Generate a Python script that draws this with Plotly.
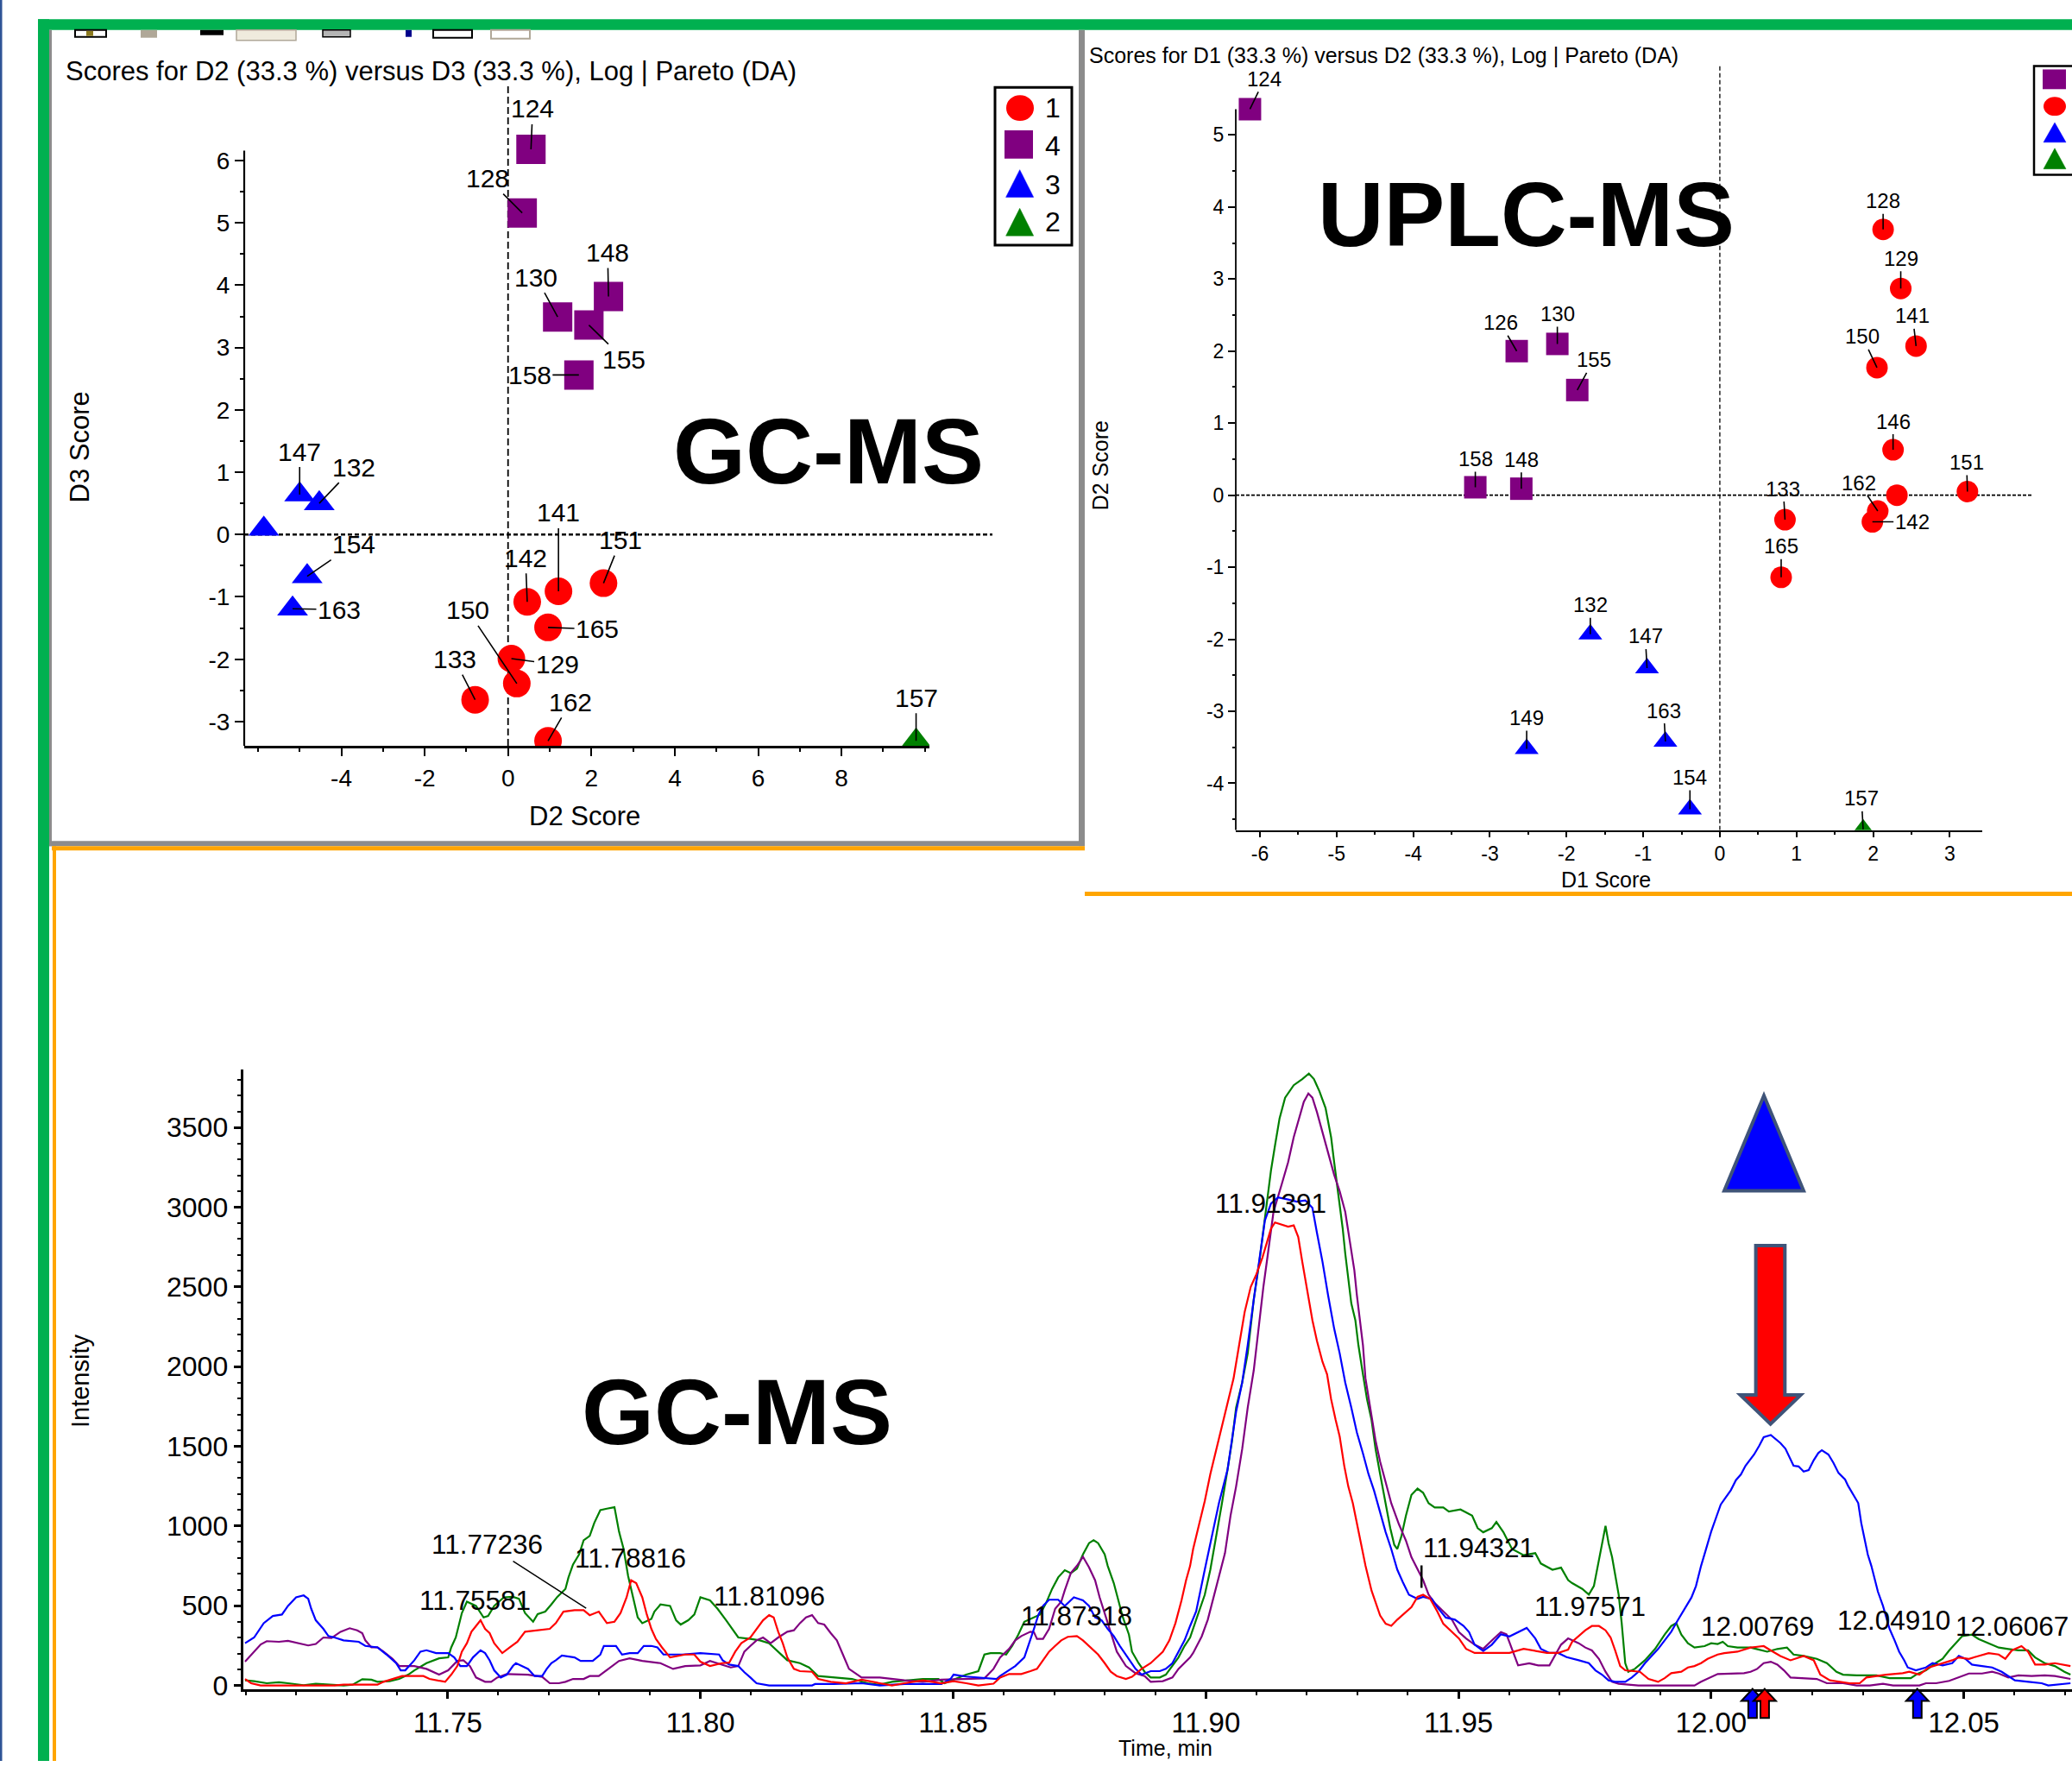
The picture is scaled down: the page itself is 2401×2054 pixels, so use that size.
import plotly.graph_objects as go

W, H = 2401, 2054
NARROW = "Liberation Sans, Arial, sans-serif"
REG = "Liberation Sans, Arial, sans-serif"
BOLDN = "Liberation Sans, Arial, sans-serif"

RED, PURPLE, BLUE, GREEN = "#FF0000", "#800080", "#0000FF", "#008000"

# ---------------- GC-MS scores: D2 (x) vs D3 (y) ----------------
GC_G4_IDS = ["124", "128", "130", "148", "155", "158"]
GC_G4_D2 = [0.55, 0.34, 1.19, 2.41, 1.94, 1.70]
GC_G4_D3 = [6.18, 5.16, 3.49, 3.82, 3.36, 2.56]

GC_G3_IDS = ["147", "132", "", "154", "163"]
GC_G3_D2 = [-5.00, -4.53, -5.86, -4.82, -5.17]
GC_G3_D3 = [0.64, 0.50, 0.09, -0.67, -1.19]

GC_G1_IDS = ["141", "151", "142", "165", "129", "150", "133", "162"]
GC_G1_D2 = [1.21, 2.29, 0.46, 0.96, 0.08, 0.21, -0.79, 0.96]
GC_G1_D3 = [-0.91, -0.78, -1.08, -1.49, -1.99, -2.39, -2.65, -3.31]

GC_G2_IDS = ["157"]
GC_G2_D2 = [9.79]
GC_G2_D3 = [-3.31]

GC_X_TICKS = [-4, -2, 0, 2, 4, 6, 8]
GC_Y_TICKS = [-3, -2, -1, 0, 1, 2, 3, 4, 5, 6]

# ---------------- UPLC-MS scores: D1 (x) vs D2 (y) ----------------
UP_G4_IDS = ["124", "126", "130", "155", "158", "148"]
UP_G4_D1 = [-6.13, -2.65, -2.12, -1.86, -3.19, -2.59]
UP_G4_D2 = [5.36, 2.00, 2.10, 1.46, 0.11, 0.09]

UP_G1_IDS = ["128", "129", "141", "150", "146", "151", "", "162", "142", "133", "165"]
UP_G1_D1 = [2.13, 2.36, 2.56, 2.05, 2.26, 3.23, 2.31, 2.06, 1.99, 0.85, 0.80]
UP_G1_D2 = [3.69, 2.87, 2.07, 1.77, 0.63, 0.05, 0.00, -0.22, -0.37, -0.34, -1.14]

UP_G3_IDS = ["132", "147", "149", "163", "154"]
UP_G3_D1 = [-1.69, -0.95, -2.52, -0.71, -0.39]
UP_G3_D2 = [-1.93, -2.40, -3.52, -3.42, -4.36]

UP_G2_IDS = ["157"]
UP_G2_D1 = [1.87]
UP_G2_D2 = [-4.64]

UP_X_TICKS = [-6, -5, -4, -3, -2, -1, 0, 1, 2, 3]
UP_Y_TICKS = [-4, -3, -2, -1, 0, 1, 2, 3, 4, 5]

# ---------------- GC-MS chromatogram (time [min], intensity) ----------------
CHROM_GREEN = [
    (11.7099, 32), (11.7117, 27), (11.7142, 14), (11.7166, 20), (11.7184, 14), (11.7215, 2), (11.7239, 11),
    (11.7276, 5), (11.7294, 0), (11.7312, 5), (11.7331, 39), (11.7349, 36), (11.7361, 23), (11.7385, 27),
    (11.7404, 41), (11.7422, 68), (11.7434, 95), (11.7458, 140), (11.7483, 170), (11.7501, 176), (11.7507, 239),
    (11.7516, 301), (11.7522, 382), (11.7528, 454), (11.7538, 526), (11.7556, 499), (11.7571, 427), (11.7580, 436),
    (11.7592, 499), (11.7611, 553), (11.7629, 556), (11.7641, 544), (11.7653, 454), (11.7669, 400), (11.7678, 448),
    (11.7693, 463), (11.7705, 508), (11.7717, 556), (11.7733, 606), (11.7739, 678), (11.7748, 759), (11.7760, 822),
    (11.7769, 911), (11.7781, 938), (11.7790, 1019), (11.7802, 1100), (11.7815, 1109), (11.7830, 1118),
    (11.7839, 965), (11.7848, 857), (11.7857, 687), (11.7866, 571), (11.7876, 427), (11.7885, 391), (11.7903, 418),
    (11.7909, 463), (11.7921, 508), (11.7940, 499), (11.7952, 409), (11.7961, 382), (11.7976, 409), (11.7988, 445),
    (11.8000, 553), (11.8019, 534), (11.8034, 481), (11.8051, 409), (11.8063, 355), (11.8075, 301), (11.8099, 292),
    (11.8118, 283), (11.8136, 265), (11.8148, 230), (11.8160, 194), (11.8172, 158), (11.8197, 140), (11.8215, 113),
    (11.8233, 59), (11.8282, 45), (11.8300, 41), (11.8331, 14), (11.8355, 5), (11.8379, 23), (11.8440, 41),
    (11.8471, 41), (11.8483, 14), (11.8526, 68), (11.8550, 90), (11.8562, 194), (11.8574, 203), (11.8593, 203),
    (11.8605, 194), (11.8617, 248), (11.8629, 319), (11.8641, 400), (11.8660, 427), (11.8672, 445), (11.8684, 517),
    (11.8696, 606), (11.8708, 678), (11.8721, 723), (11.8733, 705), (11.8745, 732), (11.8757, 822), (11.8769, 893),
    (11.8778, 911), (11.8787, 893), (11.8800, 822), (11.8806, 750), (11.8818, 642), (11.8827, 534), (11.8836, 427),
    (11.8848, 319), (11.8854, 212), (11.8867, 140), (11.8879, 86), (11.8891, 50), (11.8909, 50), (11.8921, 68),
    (11.8934, 122), (11.8946, 176), (11.8958, 248), (11.8969, 301), (11.8981, 413), (11.8998, 569), (11.9009, 726),
    (11.9021, 935), (11.9032, 1143), (11.9043, 1352), (11.9052, 1535), (11.9060, 1743), (11.9072, 1900),
    (11.9083, 2083), (11.9089, 2265), (11.9095, 2422), (11.9106, 2657), (11.9112, 2813), (11.9117, 2917),
    (11.9123, 3100), (11.9129, 3230), (11.9137, 3387), (11.9146, 3557), (11.9157, 3687), (11.9174, 3765),
    (11.9191, 3804), (11.9204, 3838), (11.9214, 3804), (11.9225, 3726), (11.9237, 3622), (11.9248, 3439),
    (11.9254, 3283), (11.9262, 3100), (11.9271, 2865), (11.9276, 2709), (11.9282, 2552), (11.9288, 2396),
    (11.9296, 2291), (11.9302, 2135), (11.9311, 1952), (11.9319, 1796), (11.9328, 1665), (11.9336, 1482),
    (11.9345, 1326), (11.9356, 1143), (11.9365, 987), (11.9373, 882), (11.9379, 856), (11.9387, 935),
    (11.9396, 1065), (11.9407, 1196), (11.9419, 1235), (11.9430, 1209), (11.9441, 1143), (11.9453, 1117),
    (11.9470, 1117), (11.9481, 1091), (11.9504, 1104), (11.9527, 1065), (11.9538, 987), (11.9549, 961),
    (11.9566, 987), (11.9575, 1026), (11.9589, 961), (11.9606, 856), (11.9629, 817), (11.9652, 830), (11.9663, 765),
    (11.9686, 726), (11.9703, 739), (11.9717, 661), (11.9725, 642), (11.9745, 606), (11.9758, 570), (11.9768, 624),
    (11.9778, 786), (11.9784, 893), (11.9791, 1001), (11.9797, 893), (11.9804, 804), (11.9810, 696), (11.9817, 570),
    (11.9823, 391), (11.9830, 140), (11.9836, 86), (11.9849, 104), (11.9869, 158), (11.9889, 229), (11.9908, 319),
    (11.9921, 373), (11.9931, 391), (11.9941, 319), (11.9954, 265), (11.9967, 238), (11.9987, 247), (12.0000, 265),
    (12.0013, 260), (12.0023, 274), (12.0033, 247), (12.0052, 238), (12.0078, 238), (12.0098, 220), (12.0111, 212),
    (12.0131, 229), (12.0150, 238), (12.0163, 194), (12.0183, 185), (12.0209, 167), (12.0229, 140), (12.0248, 86),
    (12.0261, 68), (12.0288, 63), (12.0327, 63), (12.0353, 46), (12.0395, 46), (12.0408, 73), (12.0425, 95),
    (12.0444, 140), (12.0458, 167), (12.0471, 220), (12.0484, 265), (12.0497, 310), (12.0516, 319), (12.0529, 292),
    (12.0549, 265), (12.0569, 238), (12.0588, 229), (12.0608, 220), (12.0627, 220), (12.0641, 176), (12.0660, 140),
    (12.0680, 122), (12.0699, 86), (12.0711, 68),
]

CHROM_PURPLE = [
    (11.7099, 149), (11.7117, 212), (11.7130, 257), (11.7142, 278), (11.7166, 274), (11.7184, 280), (11.7203, 265),
    (11.7224, 251), (11.7239, 260), (11.7254, 301), (11.7270, 298), (11.7288, 337), (11.7306, 359), (11.7321, 346),
    (11.7331, 328), (11.7337, 283), (11.7349, 239), (11.7361, 239), (11.7373, 212), (11.7391, 167), (11.7404, 122),
    (11.7434, 122), (11.7458, 104), (11.7483, 68), (11.7501, 95), (11.7519, 154), (11.7531, 158), (11.7544, 122),
    (11.7556, 50), (11.7574, 23), (11.7586, 23), (11.7598, 50), (11.7617, 72), (11.7659, 68), (11.7687, 54),
    (11.7702, 14), (11.7720, 14), (11.7733, 23), (11.7748, 41), (11.7769, 41), (11.7781, 59), (11.7799, 59),
    (11.7818, 104), (11.7839, 154), (11.7860, 170), (11.7885, 154), (11.7921, 140), (11.7946, 104), (11.7970, 122),
    (11.8000, 126), (11.8019, 154), (11.8060, 113), (11.8075, 122), (11.8087, 212), (11.8099, 248), (11.8111, 283),
    (11.8124, 301), (11.8139, 265), (11.8154, 301), (11.8172, 337), (11.8185, 346), (11.8197, 391), (11.8209, 427),
    (11.8221, 441), (11.8233, 391), (11.8245, 382), (11.8258, 328), (11.8270, 283), (11.8282, 194), (11.8294, 104),
    (11.8319, 50), (11.8355, 50), (11.8404, 32), (11.8440, 23), (11.8477, 36), (11.8532, 41), (11.8562, 45),
    (11.8580, 104), (11.8593, 176), (11.8611, 230), (11.8623, 283), (11.8635, 310), (11.8653, 337), (11.8660, 334),
    (11.8666, 292), (11.8678, 292), (11.8690, 355), (11.8702, 481), (11.8714, 526), (11.8721, 597), (11.8733, 705),
    (11.8745, 750), (11.8757, 807), (11.8769, 741), (11.8781, 660), (11.8790, 553), (11.8800, 454), (11.8812, 337),
    (11.8824, 212), (11.8842, 122), (11.8861, 77), (11.8879, 59), (11.8891, 23), (11.8915, 27), (11.8934, 50),
    (11.8946, 104), (11.8958, 140), (11.8969, 176), (11.8975, 204), (11.8992, 308), (11.9004, 413), (11.9015, 543),
    (11.9026, 674), (11.9038, 830), (11.9049, 1065), (11.9060, 1248), (11.9072, 1482), (11.9083, 1743),
    (11.9095, 1978), (11.9106, 2291), (11.9114, 2500), (11.9123, 2709), (11.9134, 2970), (11.9151, 3152),
    (11.9163, 3283), (11.9174, 3439), (11.9186, 3570), (11.9194, 3661), (11.9203, 3713), (11.9211, 3687),
    (11.9220, 3596), (11.9231, 3465), (11.9242, 3335), (11.9254, 3204), (11.9265, 3100), (11.9276, 2970),
    (11.9285, 2787), (11.9294, 2604), (11.9299, 2448), (11.9305, 2291), (11.9311, 2135), (11.9316, 1926),
    (11.9322, 1796), (11.9328, 1691), (11.9336, 1535), (11.9345, 1404), (11.9356, 1274), (11.9367, 1143),
    (11.9382, 1013), (11.9396, 909), (11.9407, 804), (11.9419, 726), (11.9430, 661), (11.9441, 569), (11.9453, 517),
    (11.9470, 465), (11.9487, 413), (11.9501, 335), (11.9515, 295), (11.9532, 256), (11.9549, 230), (11.9566, 282),
    (11.9584, 335), (11.9595, 321), (11.9606, 230), (11.9618, 126), (11.9640, 139), (11.9658, 126), (11.9680, 126),
    (11.9692, 191), (11.9703, 256), (11.9717, 295), (11.9738, 265), (11.9751, 238), (11.9764, 220), (11.9778, 167),
    (11.9791, 86), (11.9804, 23), (11.9817, 11), (11.9856, 0), (11.9948, 0), (11.9967, 0), (11.9980, 23),
    (11.9993, 41), (12.0013, 72), (12.0065, 77), (12.0078, 86), (12.0091, 104), (12.0104, 140), (12.0118, 149),
    (12.0131, 131), (12.0144, 95), (12.0157, 50), (12.0209, 41), (12.0229, 14), (12.0261, 14), (12.0288, 0),
    (12.0314, 0), (12.0340, 11), (12.0360, 0), (12.0412, 0), (12.0425, 14), (12.0445, 14), (12.0471, 29),
    (12.0490, 50), (12.0510, 75), (12.0536, 75), (12.0556, 86), (12.0569, 75), (12.0588, 50), (12.0608, 63),
    (12.0634, 59), (12.0660, 63), (12.0680, 59), (12.0711, 41),
]

CHROM_BLUE = [
    (11.7099, 265), (11.7117, 301), (11.7136, 391), (11.7154, 436), (11.7172, 445), (11.7184, 499), (11.7200, 553),
    (11.7215, 565), (11.7224, 544), (11.7230, 481), (11.7239, 409), (11.7254, 355), (11.7264, 310), (11.7276, 301),
    (11.7294, 283), (11.7324, 274), (11.7337, 248), (11.7361, 239), (11.7379, 194), (11.7398, 140), (11.7407, 95),
    (11.7416, 95), (11.7434, 158), (11.7446, 212), (11.7458, 221), (11.7477, 203), (11.7501, 203), (11.7513, 176),
    (11.7525, 122), (11.7538, 122), (11.7550, 176), (11.7565, 221), (11.7574, 203), (11.7583, 158), (11.7592, 95),
    (11.7605, 50), (11.7617, 68), (11.7629, 122), (11.7635, 140), (11.7647, 122), (11.7659, 104), (11.7672, 59),
    (11.7687, 59), (11.7696, 104), (11.7705, 140), (11.7714, 158), (11.7726, 188), (11.7751, 176), (11.7763, 154),
    (11.7787, 154), (11.7802, 194), (11.7809, 248), (11.7833, 248), (11.7845, 194), (11.7860, 203), (11.7876, 203),
    (11.7888, 248), (11.7903, 248), (11.7915, 239), (11.7927, 194), (11.7964, 194), (11.8000, 203), (11.8037, 194),
    (11.8044, 158), (11.8057, 131), (11.8075, 122), (11.8087, 83), (11.8099, 50), (11.8111, 14), (11.8136, 0),
    (11.8221, 0), (11.8227, 9), (11.8264, 9), (11.8319, 14), (11.8355, 0), (11.8404, 9), (11.8477, 9), (11.8495, 41),
    (11.8501, 68), (11.8526, 56), (11.8586, 41), (11.8593, 59), (11.8611, 95), (11.8623, 122), (11.8641, 176),
    (11.8647, 230), (11.8653, 283), (11.8660, 355), (11.8669, 445), (11.8678, 499), (11.8690, 538), (11.8708, 538),
    (11.8721, 499), (11.8739, 553), (11.8757, 534), (11.8769, 499), (11.8781, 427), (11.8794, 409), (11.8806, 355),
    (11.8818, 310), (11.8830, 248), (11.8842, 194), (11.8861, 104), (11.8873, 68), (11.8891, 90), (11.8909, 90),
    (11.8921, 104), (11.8934, 140), (11.8946, 212), (11.8958, 283), (11.8969, 373), (11.8981, 465), (11.8998, 726),
    (11.9015, 987), (11.9026, 1143), (11.9043, 1352), (11.9060, 1717), (11.9072, 1900), (11.9083, 2135),
    (11.9095, 2422), (11.9106, 2657), (11.9117, 2917), (11.9129, 3022), (11.9143, 3061), (11.9163, 3048),
    (11.9180, 3035), (11.9197, 3043), (11.9211, 2996), (11.9220, 2839), (11.9231, 2657), (11.9242, 2448),
    (11.9254, 2239), (11.9265, 2083), (11.9276, 1900), (11.9288, 1743), (11.9299, 1587), (11.9311, 1456),
    (11.9322, 1326), (11.9333, 1222), (11.9345, 1091), (11.9356, 961), (11.9367, 856), (11.9379, 726),
    (11.9390, 648), (11.9402, 569), (11.9419, 543), (11.9430, 556), (11.9447, 543), (11.9458, 491), (11.9475, 426),
    (11.9493, 413), (11.9510, 374), (11.9521, 335), (11.9532, 256), (11.9549, 217), (11.9566, 256), (11.9584, 321),
    (11.9601, 308), (11.9618, 335), (11.9635, 361), (11.9652, 295), (11.9663, 230), (11.9680, 204), (11.9697, 204),
    (11.9714, 178), (11.9725, 167), (11.9738, 158), (11.9758, 140), (11.9771, 95), (11.9784, 68), (11.9797, 32),
    (11.9810, 23), (11.9830, 23), (11.9843, 50), (11.9856, 86), (11.9869, 140), (11.9882, 185), (11.9895, 229),
    (11.9908, 283), (11.9921, 337), (11.9934, 409), (11.9948, 481), (11.9961, 552), (11.9970, 624), (11.9980, 750),
    (11.9990, 857), (12.0000, 965), (12.0010, 1055), (12.0019, 1135), (12.0029, 1180), (12.0039, 1225),
    (12.0049, 1288), (12.0059, 1324), (12.0068, 1378), (12.0078, 1422), (12.0085, 1449), (12.0095, 1503),
    (12.0104, 1557), (12.0118, 1571), (12.0127, 1548), (12.0137, 1521), (12.0147, 1485), (12.0157, 1422),
    (12.0163, 1378), (12.0173, 1374), (12.0183, 1342), (12.0193, 1351), (12.0203, 1413), (12.0212, 1458),
    (12.0219, 1476), (12.0232, 1449), (12.0242, 1396), (12.0252, 1333), (12.0265, 1292), (12.0271, 1252),
    (12.0281, 1198), (12.0291, 1144), (12.0297, 1019), (12.0304, 911), (12.0310, 821), (12.0317, 750),
    (12.0323, 678), (12.0330, 588), (12.0340, 499), (12.0346, 427), (12.0353, 355), (12.0363, 283), (12.0372, 212),
    (12.0382, 158), (12.0389, 113), (12.0405, 95), (12.0425, 113), (12.0438, 140), (12.0458, 126), (12.0477, 140),
    (12.0490, 185), (12.0503, 167), (12.0516, 131), (12.0536, 122), (12.0556, 113), (12.0575, 86), (12.0601, 32),
    (12.0628, 23), (12.0654, 14), (12.0667, 0), (12.0686, 5), (12.0711, 14),
]

CHROM_RED = [
    (11.7099, 41), (11.7111, 14), (11.7130, 0), (11.7276, 0), (11.7294, 5), (11.7361, 5), (11.7373, 23),
    (11.7391, 41), (11.7410, 59), (11.7452, 59), (11.7464, 41), (11.7495, 23), (11.7507, 68), (11.7519, 122),
    (11.7528, 212), (11.7538, 265), (11.7547, 337), (11.7556, 373), (11.7565, 409), (11.7574, 355), (11.7583, 328),
    (11.7592, 265), (11.7608, 203), (11.7623, 239), (11.7638, 274), (11.7653, 337), (11.7678, 346), (11.7702, 355),
    (11.7714, 391), (11.7729, 463), (11.7751, 472), (11.7769, 472), (11.7781, 441), (11.7799, 463), (11.7815, 391),
    (11.7830, 400), (11.7842, 454), (11.7854, 553), (11.7863, 660), (11.7873, 642), (11.7885, 553), (11.7894, 445),
    (11.7903, 355), (11.7912, 292), (11.7924, 239), (11.7940, 176), (11.7970, 194), (11.7988, 194), (11.8000, 149),
    (11.8019, 122), (11.8043, 140), (11.8057, 143), (11.8069, 212), (11.8081, 265), (11.8099, 301), (11.8111, 355),
    (11.8124, 409), (11.8136, 441), (11.8145, 427), (11.8154, 337), (11.8163, 265), (11.8172, 176), (11.8185, 104),
    (11.8197, 90), (11.8221, 86), (11.8233, 41), (11.8258, 23), (11.8288, 14), (11.8319, 36), (11.8355, 14),
    (11.8379, 0), (11.8404, 14), (11.8440, 32), (11.8477, 14), (11.8501, 27), (11.8526, 14), (11.8550, 0),
    (11.8580, 11), (11.8593, 50), (11.8611, 72), (11.8635, 72), (11.8653, 90), (11.8666, 104), (11.8678, 158),
    (11.8690, 212), (11.8702, 248), (11.8714, 283), (11.8727, 305), (11.8745, 310), (11.8757, 283), (11.8769, 248),
    (11.8787, 194), (11.8800, 140), (11.8812, 86), (11.8824, 59), (11.8842, 41), (11.8854, 54), (11.8873, 104),
    (11.8891, 140), (11.8903, 176), (11.8915, 212), (11.8928, 283), (11.8940, 391), (11.8952, 534), (11.8961, 660),
    (11.8969, 750), (11.8975, 856), (11.8987, 1013), (11.8998, 1156), (11.9009, 1326), (11.9021, 1482),
    (11.9032, 1613), (11.9043, 1756), (11.9055, 1926), (11.9066, 2135), (11.9077, 2343), (11.9089, 2500),
    (11.9100, 2578), (11.9112, 2683), (11.9120, 2774), (11.9129, 2865), (11.9137, 2904), (11.9151, 2891),
    (11.9163, 2878), (11.9174, 2886), (11.9183, 2813), (11.9191, 2657), (11.9203, 2448), (11.9211, 2291),
    (11.9220, 2161), (11.9231, 2030), (11.9240, 1952), (11.9248, 1796), (11.9257, 1665), (11.9265, 1561),
    (11.9274, 1378), (11.9282, 1248), (11.9291, 1143), (11.9299, 1013), (11.9308, 882), (11.9316, 752),
    (11.9328, 595), (11.9336, 517), (11.9345, 439), (11.9356, 387), (11.9367, 374), (11.9379, 413), (11.9393, 452),
    (11.9407, 491), (11.9419, 556), (11.9430, 569), (11.9444, 543), (11.9458, 465), (11.9470, 387), (11.9487, 335),
    (11.9501, 295), (11.9515, 230), (11.9532, 204), (11.9572, 204), (11.9601, 204), (11.9629, 230), (11.9652, 217),
    (11.9675, 204), (11.9697, 204), (11.9717, 225), (11.9725, 274), (11.9738, 310), (11.9751, 346), (11.9764, 373),
    (11.9778, 373), (11.9791, 346), (11.9801, 301), (11.9810, 220), (11.9820, 122), (11.9830, 95), (11.9859, 86),
    (11.9876, 41), (11.9895, 23), (11.9908, 46), (11.9921, 77), (11.9941, 86), (11.9954, 113), (11.9967, 122),
    (11.9980, 140), (11.9993, 167), (12.0013, 194), (12.0026, 203), (12.0052, 212), (12.0078, 238), (12.0104, 247),
    (12.0118, 220), (12.0137, 185), (12.0157, 158), (12.0183, 185), (12.0203, 158), (12.0216, 68), (12.0235, 32),
    (12.0274, 14), (12.0294, 14), (12.0307, 50), (12.0346, 68), (12.0379, 77), (12.0392, 86), (12.0412, 68),
    (12.0431, 113), (12.0458, 140), (12.0477, 158), (12.0490, 176), (12.0510, 167), (12.0529, 185), (12.0549, 203),
    (12.0569, 194), (12.0582, 167), (12.0595, 220), (12.0614, 247), (12.0627, 212), (12.0641, 131), (12.0660, 131),
    (12.0680, 140), (12.0711, 122),
]

CHROM_X_TICKS = [11.75, 11.80, 11.85, 11.90, 11.95, 12.00, 12.05]
CHROM_Y_TICKS = [0, 500, 1000, 1500, 2000, 2500, 3000, 3500]

# peak labels: text, time, intensity (text centre)
CHROM_LABELS = [
    ("11.75581", 11.7554, 533), ("11.78816", 11.7861, 797), ("11.81096", 11.8136, 560),
    ("11.87318", 11.8744, 436), ("11.91391", 11.9129, 3022), ("11.97571", 11.9761, 495),
    ("12.00769", 12.0091, 371), ("12.04910", 12.0362, 409), ("12.06067", 12.0596, 371),
]
# peak markers below the axis: time, colour
CHROM_PEAK_MARKS = [(12.0082, BLUE), (12.0106, RED), (12.0408, BLUE)]

# label offsets in pixels (layout only)
GC_OFF = {"124": (2, -47), "128": (-40, -40), "130": (-25, -46), "148": (-1, -51), "155": (41, 40),
          "158": (-57, 0), "147": (0, -50), "132": (40, -42), "154": (54, -37), "163": (54, 1),
          "141": (0, -91), "151": (20, -50), "142": (-2, -51), "165": (57, 2), "129": (53, 7),
          "150": (-57, -85), "133": (-24, -47), "162": (26, -45), "157": (0, -50)}
UP_OFF = {"124": (17, -35), "126": (-19, -33), "130": (0, -35), "155": (19, -35), "158": (0, -33),
          "148": (0, -34), "128": (0, -33), "129": (0, -35), "141": (-4, -35), "150": (-17, -36),
          "146": (0, -33), "151": (-1, -34), "162": (-22, -33), "142": (46, 0), "133": (-2, -36),
          "165": (0, -36), "132": (0, -34), "147": (-2, -37), "149": (0, -36), "163": (-2, -36),
          "154": (0, -37), "157": (-2, -36)}


def px(X):
    return X / W


def py(Y):
    return 1 - Y / H


fig = go.Figure()

# ---- score plot markers
gc_groups = [
    (GC_G4_IDS, GC_G4_D2, GC_G4_D3, "square", PURPLE, 34),
    (GC_G3_IDS, GC_G3_D2, GC_G3_D3, "triangle-up", BLUE, 31),
    (GC_G1_IDS, GC_G1_D2, GC_G1_D3, "circle", RED, 32),
    (GC_G2_IDS, GC_G2_D2, GC_G2_D3, "triangle-up", GREEN, 31),
]
for ids, xs, ys, sym, col, sz in gc_groups:
    fig.add_trace(go.Scatter(x=xs, y=ys, mode="markers", xaxis="x", yaxis="y", showlegend=False,
                             marker=dict(symbol=sym, color=col, size=sz, line=dict(width=0)),
                             hoverinfo="skip"))

up_groups = [
    (UP_G4_IDS, UP_G4_D1, UP_G4_D2, "square", PURPLE, 26),
    (UP_G1_IDS, UP_G1_D1, UP_G1_D2, "circle", RED, 25),
    (UP_G3_IDS, UP_G3_D1, UP_G3_D2, "triangle-up", BLUE, 24),
    (UP_G2_IDS, UP_G2_D1, UP_G2_D2, "triangle-up", GREEN, 24),
]
for ids, xs, ys, sym, col, sz in up_groups:
    fig.add_trace(go.Scatter(x=xs, y=ys, mode="markers", xaxis="x2", yaxis="y2", showlegend=False,
                             marker=dict(symbol=sym, color=col, size=sz, line=dict(width=0)),
                             hoverinfo="skip"))

# ---- chromatogram
for series, col in [(CHROM_GREEN, GREEN), (CHROM_PURPLE, PURPLE), (CHROM_BLUE, BLUE), (CHROM_RED, RED)]:
    fig.add_trace(go.Scatter(x=[p[0] for p in series], y=[p[1] for p in series], mode="lines",
                             xaxis="x3", yaxis="y3", showlegend=False, hoverinfo="skip",
                             line=dict(color=col, width=2.2)))

annotations = []
shapes = []


def lab(text, x, y, dx, dy, xref, yref, size):
    annotations.append(dict(text=text, x=x, y=y, xref=xref, yref=yref, ax=dx, ay=dy,
                            showarrow=True, arrowhead=0, arrowwidth=1.6, arrowcolor="black",
                            standoff=0, font=dict(family=NARROW, size=size, color="black")))


for ids, xs, ys, *_ in gc_groups:
    for i, x, y in zip(ids, xs, ys):
        if i:
            dx, dy = GC_OFF[i]
            lab(i, x, y, dx, dy, "x", "y", 30)
for ids, xs, ys, *_ in up_groups:
    for i, x, y in zip(ids, xs, ys):
        if i:
            dx, dy = UP_OFF[i]
            lab(i, x, y, dx, dy, "x2", "y2", 24)

CH_FONT = dict(family=NARROW, size=31.5, color="black")
for text_, t, inten in CHROM_LABELS:
    annotations.append(dict(text=text_, x=t, y=inten, xref="x3", yref="y3", showarrow=False, font=CH_FONT))
annotations.append(dict(text="11.77236", x=11.7774, y=484, xref="x3", yref="y3", ax=-115, ay=-74,
                        showarrow=True, arrowhead=0, arrowwidth=1.5, arrowcolor="black", standoff=0,
                        font=CH_FONT))
annotations.append(dict(text="11.94321", x=11.9432, y=613, xref="x3", yref="y3", ax=0, ay=-26,
                        xanchor="left", yanchor="bottom", xshift=-3,
                        showarrow=True, arrowhead=0, arrowwidth=2.5, arrowcolor="black", standoff=0,
                        font=CH_FONT))


def text(t, X, Y, size, family=NARROW, angle=0, xanchor="center", bold=False, color="black"):
    annotations.append(dict(text=("<b>%s</b>" % t) if bold else t, x=px(X), y=py(Y), xref="paper",
                            yref="paper", showarrow=False, textangle=angle, xanchor=xanchor,
                            yanchor="middle", font=dict(family=family, size=size, color=color)))


# titles and axis titles
text("Scores for D2 (33.3 %) versus D3 (33.3 %), Log | Pareto (DA)", 74, 83, 31, xanchor="left")
text("Scores for D1 (33.3 %) versus D2 (33.3 %), Log | Pareto (DA)", 1260, 64, 25, xanchor="left")
text("D3 Score", 92, 522, 31, angle=-90)
text("D2 Score", 677, 952, 31)
text("D2 Score", 1275, 543, 25, angle=-90)
text("D1 Score", 1861, 1026, 25)
text("Intensity", 93, 1611, 29, family=REG, angle=-90)
text("Time, min", 1350, 2039, 25, family=REG)

# big labels
text("GC-MS", 960, 526, 108, family=BOLDN, bold=True)
text("UPLC-MS", 1768, 250, 106, family=BOLDN, bold=True)
text("GC-MS", 854, 1647, 108, family=BOLDN, bold=True)

# GC legend text
for s, Y in [("1", 126), ("4", 170), ("3", 215), ("2", 259)]:
    text(s, 1220, Y, 32)


def rect(X0, Y0, X1, Y1, fill, lc=None, lw=0):
    shapes.append(dict(type="rect", xref="paper", yref="paper", x0=px(X0), x1=px(X1), y0=py(Y1), y1=py(Y0),
                       fillcolor=fill, line=dict(width=lw, color=lc or fill), layer="above"))


def poly(pts, fill, lc, lw):
    d = "M " + " L ".join("%.6f,%.6f" % (px(x), py(y)) for x, y in pts) + " Z"
    shapes.append(dict(type="path", xref="paper", yref="paper", path=d, fillcolor=fill,
                       line=dict(color=lc, width=lw), layer="above"))


def ellipse(X0, Y0, X1, Y1, fill):
    shapes.append(dict(type="circle", xref="paper", yref="paper", x0=px(X0), x1=px(X1), y0=py(Y1), y1=py(Y0),
                       fillcolor=fill, line=dict(width=0), layer="above"))


# frame decoration
rect(0, 0, 2.5, H, "#2F5496")
rect(44, 22.5, W, 35, "#00B050")
rect(44, 22.5, 57, H, "#00B050")
rect(57, 35, 60, 987, "#8C8C8C")
rect(57, 981, 1257, 987, "#8C8C8C")
rect(1250, 35, 1257, 987, "#8C8C8C")
rect(60, 987, 1257, 992, "#FFA500")
rect(61, 987, 65, H, "#FFA500")
rect(1257, 1040, W, 1045, "#FFA500")
# toolbar remnants
rect(87, 35, 123, 43, "white", "black", 2)
rect(100, 36, 108, 42, "#8C7A1E")
rect(163, 35, 182, 44, "#B0A898")
rect(232, 35, 259, 41, "black")
rect(274, 35, 343, 47, "#EFEBDD", "#B0A898", 1.5)
rect(374, 35, 406, 43, "#B5B5B5", "black", 1.5)
rect(470, 35, 477, 43, "#00008B")
rect(502, 35, 547, 44, "white", "black", 2)
rect(569, 35, 614, 45, "white", "#B0A898", 2)

# GC legend
rect(1153, 102, 1242, 286, "white", "black", 3)
ellipse(1166, 111, 1198, 141, RED)
rect(1164, 152, 1197, 185, PURPLE)
poly([(1181.7, 198), (1197.7, 230), (1165.6, 230)], BLUE, BLUE, 0.5)
poly([(1181.7, 243), (1197.7, 275), (1165.6, 275)], GREEN, GREEN, 0.5)

# UPLC legend (cut by page edge)
rect(2357, 77, 2420, 204, "white", "black", 2.5)
rect(2367, 81, 2394, 104, PURPLE)
ellipse(2368, 113, 2394, 135, RED)
poly([(2381, 143), (2394, 166), (2368, 166)], BLUE, BLUE, 0.5)
poly([(2381, 173), (2394, 197), (2368, 197)], GREEN, GREEN, 0.5)

# highlight triangle and arrow on chromatogram
poly([(2044, 1278), (2090, 1389), (1998, 1389)], BLUE, "#3F5479", 4)
poly([(2034.6, 1453), (2068.3, 1453), (2068.3, 1627), (2086.7, 1627), (2051.6, 1661), (2016.6, 1627),
      (2034.6, 1627)], RED, "#3F5479", 4)

# peak markers under the chromatogram axis (x through the chromatogram time scale)
PX_PER_MIN = (W - 281.6) / (12.0714 - 11.7095)
for t, col in CHROM_PEAK_MARKS:
    hw, sw = 13 / PX_PER_MIN, 5 / PX_PER_MIN
    ytip, yneck, ybot = py(1970), py(1984), py(2004)
    pts = [(t, ytip), (t + hw, yneck), (t + sw, yneck), (t + sw, ybot), (t - sw, ybot), (t - sw, yneck),
           (t - hw, yneck)]
    d = "M " + " L ".join("%.5f,%.6f" % p for p in pts) + " Z"
    shapes.append(dict(type="path", xref="x3", yref="paper", path=d, fillcolor=col,
                       line=dict(color="black", width=2), layer="above"))

# score plot reference lines and y axis lines
shapes.append(dict(type="line", xref="paper", yref="y", x0=px(283), x1=px(1150), y0=0, y1=0,
                   line=dict(color="black", width=2.5, dash="5px,3px"), layer="below"))
shapes.append(dict(type="line", xref="x", yref="y", x0=0, x1=0, y0=-3.39, y1=7.2,
                   line=dict(color="black", width=1.8, dash="8px,4px"), layer="below"))
shapes.append(dict(type="line", xref="paper", yref="y", x0=px(283), x1=px(283), y0=-3.39, y1=6.16,
                   line=dict(color="black", width=2.2), layer="above"))
shapes.append(dict(type="line", xref="paper", yref="y2", x0=px(1432), x1=px(2355), y0=0, y1=0,
                   line=dict(color="black", width=1.6, dash="4px,2px"), layer="below"))
shapes.append(dict(type="line", xref="x2", yref="y2", x0=0, x1=0, y0=-4.65, y1=5.97,
                   line=dict(color="black", width=1.3, dash="5px,3px"), layer="below"))
shapes.append(dict(type="line", xref="paper", yref="y2", x0=px(1432), x1=px(1432), y0=-4.65, y1=5.36,
                   line=dict(color="black", width=1.8), layer="above"))


def half_steps(lo, hi, step, skip):
    out = []
    v = lo
    while v <= hi + 1e-9:
        if all(abs(v - s) > 1e-6 for s in skip):
            out.append(round(v, 4))
        v += step
    return out


def ttxt(vals, fmt="%g"):
    return [(fmt % v) for v in vals]


common = dict(showgrid=False, zeroline=False, tickcolor="black", ticks="outside", tickmode="array",
              fixedrange=True)

fig.update_layout(
    width=W, height=H, autosize=False, margin=dict(l=0, r=0, t=0, b=0),
    paper_bgcolor="white", plot_bgcolor="rgba(0,0,0,0)", showlegend=False,
    xaxis=dict(domain=[px(283), px(1077)], range=[-6.33, 10.11], anchor="y", showline=True, linecolor="black",
               linewidth=3, tickvals=GC_X_TICKS, ticktext=ttxt(GC_X_TICKS), ticklen=9, tickwidth=2,
               tickfont=dict(family=NARROW, size=28, color="black"), ticklabelstandoff=1,
               minor=dict(tickmode="array", tickvals=half_steps(-6, 10, 1, GC_X_TICKS), ticks="outside",
                          ticklen=4, tickwidth=2, tickcolor="black"), **common),
    yaxis=dict(domain=[py(870), py(100)], range=[-3.39, 7.2], anchor="x", showline=False,
               tickvals=GC_Y_TICKS, ticktext=ttxt(GC_Y_TICKS), ticklen=10, tickwidth=2,
               tickfont=dict(family=NARROW, size=28, color="black"),
               minor=dict(tickmode="array", tickvals=half_steps(-2.5, 5.5, 1, []), ticks="outside",
                          ticklen=4, tickwidth=2, tickcolor="black"), **common),
    xaxis2=dict(domain=[px(1432), px(2296.7)], range=[-6.315, 3.42], anchor="y2", showline=True,
                linecolor="black", linewidth=2.2, tickvals=UP_X_TICKS, ticktext=ttxt(UP_X_TICKS), ticklen=6,
                tickwidth=1.5, tickfont=dict(family=NARROW, size=23, color="black"),
                minor=dict(tickmode="array", tickvals=half_steps(-6.0, 3.0, 0.5, UP_X_TICKS), ticks="outside",
                           ticklen=3, tickwidth=1.5, tickcolor="black"), **common),
    yaxis2=dict(domain=[py(968.3), py(76)], range=[-4.65, 5.97], anchor="x2", showline=False,
                tickvals=UP_Y_TICKS, ticktext=ttxt(UP_Y_TICKS), ticklen=8, tickwidth=1.5,
                tickfont=dict(family=NARROW, size=23, color="black"),
                minor=dict(tickmode="array", tickvals=half_steps(-4.5, 4.5, 1, []), ticks="outside",
                           ticklen=3, tickwidth=1.5, tickcolor="black"), **common),
    xaxis3=dict(domain=[px(281.6), 1.0], range=[11.7095, 12.0714], anchor="y3", showline=True,
                linecolor="black", linewidth=3, tickvals=CHROM_X_TICKS, ticktext=ttxt(CHROM_X_TICKS, "%.2f"),
                ticklen=8, tickwidth=2.5, tickfont=dict(family=NARROW, size=33, color="black"),
                ticklabelstandoff=0,
                minor=dict(tickmode="array", tickvals=half_steps(11.71, 12.07, 0.01, CHROM_X_TICKS),
                           ticks="outside", ticklen=4, tickwidth=2, tickcolor="black"), **common),
    yaxis3=dict(domain=[py(1970), py(1248)], range=[-21.5, 3861], anchor="x3", showline=True,
                linecolor="black", linewidth=3, tickvals=CHROM_Y_TICKS, ticktext=ttxt(CHROM_Y_TICKS),
                ticklen=8, tickwidth=2.5, tickfont=dict(family=NARROW, size=32, color="black"),
                minor=dict(tickmode="array", tickvals=half_steps(100, 3800, 100, CHROM_Y_TICKS),
                           ticks="outside", ticklen=4, tickwidth=2, tickcolor="black"), **common),
    annotations=annotations,
    shapes=shapes,
)

fig.write_html("out.html", config={"displayModeBar": False},
               post_script="document.body.style.margin='0';")
